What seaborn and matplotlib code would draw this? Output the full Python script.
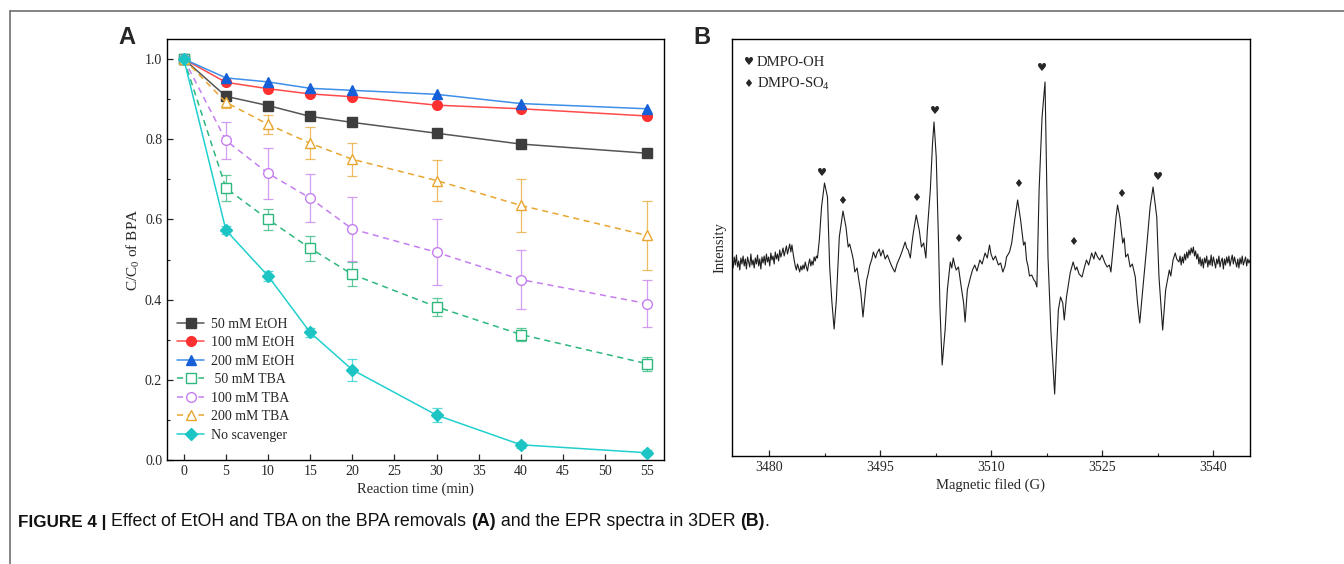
import seaborn as sns
import matplotlib.pyplot as plt
from matplotlib.lines import Line2D
from matplotlib.ticker import MultipleLocator

# ---- panel A : BPA removal with scavengers ----
time_min = [0, 5, 10, 15, 20, 30, 40, 55]
etoh_50 = [1.0, 0.907, 0.884, 0.857, 0.842, 0.815, 0.788, 0.765]
etoh_100 = [1.0, 0.942, 0.926, 0.913, 0.906, 0.885, 0.876, 0.858]
etoh_200 = [1.0, 0.953, 0.943, 0.927, 0.922, 0.912, 0.889, 0.876]
tba_50 = [1.0, 0.678, 0.600, 0.528, 0.463, 0.382, 0.313, 0.240]
tba_50_err = [0.0, 0.033, 0.027, 0.031, 0.030, 0.023, 0.015, 0.018]
tba_100 = [1.0, 0.797, 0.715, 0.653, 0.576, 0.518, 0.450, 0.390]
tba_100_err = [0.0, 0.046, 0.063, 0.060, 0.080, 0.082, 0.073, 0.058]
tba_200 = [1.0, 0.892, 0.837, 0.790, 0.750, 0.697, 0.635, 0.560]
tba_200_err = [0.0, 0.015, 0.023, 0.040, 0.041, 0.050, 0.066, 0.085]
no_scav = [1.0, 0.573, 0.459, 0.318, 0.225, 0.112, 0.038, 0.018]
no_scav_err = [0.0, 0.010, 0.012, 0.010, 0.027, 0.018, 0.008, 0.006]

# ---- panel B : EPR spectrum (three stretches) ----
left_g = [
    3475.00, 3475.15, 3475.30, 3475.45, 3475.60, 3475.75, 3475.90, 3476.05, 3476.20, 3476.35,
    3476.50, 3476.65, 3476.80, 3476.95, 3477.10, 3477.25, 3477.40, 3477.55, 3477.70, 3477.85,
    3478.00, 3478.15, 3478.30, 3478.45, 3478.60, 3478.75, 3478.90, 3479.05, 3479.20, 3479.35,
    3479.50, 3479.65, 3479.80, 3479.95, 3480.10, 3480.25, 3480.40, 3480.55, 3480.70, 3480.85,
    3481.00, 3481.15, 3481.30, 3481.45, 3481.60, 3481.75, 3481.90, 3482.05, 3482.20, 3482.35,
    3482.50, 3482.65, 3482.80, 3482.95, 3483.10, 3483.25, 3483.40, 3483.55, 3483.70, 3483.85,
    3484.00, 3484.15, 3484.30, 3484.45, 3484.60, 3484.75, 3484.90, 3485.05, 3485.20, 3485.35,
    3485.50, 3485.65, 3485.80, 3485.95, 3486.10, 3486.25, 3486.40, 3486.55,
]
left_i = [
    2, -6, 5, -3, 7, -5, 1, -8, 4, -2,
    6, -4, 3, -7, 5, 0, -5, 8, -3, 2,
    -6, 4, -2, 7, -4, 3, -7, 5, -1, 6,
    -3, 8, 0, 5, -4, 9, 2, 6, -2, 10,
    3, 8, 1, 12, 5, 9, 14, 6, 11, 16,
    8, 13, 18, 10, 17, 9, 2, -4, -8, -2,
    -6, -10, -4, -8, -3, -7, 0, -5, -9, -2,
    3, -4, 1, -3, 5, 1, 6, 4,
]
mid_g = [
    3486.8, 3487.1, 3487.5, 3487.9, 3488.2, 3488.5, 3488.8, 3489.1, 3489.5, 3490.0,
    3490.4, 3490.7, 3490.9, 3491.2, 3491.4, 3491.6, 3491.9, 3492.2, 3492.4, 3492.7,
    3493.0, 3493.2, 3493.4, 3493.6, 3493.9, 3494.1, 3494.4, 3494.6, 3494.9, 3495.1,
    3495.4, 3495.7, 3496.0, 3496.4, 3496.7, 3497.0, 3497.3, 3497.7, 3498.0, 3498.4,
    3498.6, 3498.8, 3499.1, 3499.3, 3499.5, 3499.9, 3500.3, 3500.6, 3500.9, 3501.2,
    3501.4, 3501.8, 3502.1, 3502.3, 3502.6, 3502.9, 3503.1, 3503.4, 3503.8, 3504.1,
    3504.5, 3504.7, 3504.9, 3505.1, 3505.3, 3505.6, 3505.9, 3506.3, 3506.5, 3506.8,
    3507.2, 3507.5, 3507.8, 3508.1, 3508.5, 3508.8, 3509.2, 3509.5, 3509.8, 3510.0,
    3510.3, 3510.6, 3511.0, 3511.3, 3511.6, 3511.9, 3512.1, 3512.5, 3512.8, 3513.2,
    3513.6, 3514.0, 3514.4, 3514.6, 3514.8, 3515.0, 3515.2, 3515.5, 3515.8, 3516.0,
    3516.2, 3516.5, 3516.9, 3517.3, 3517.7, 3518.1, 3518.6, 3519.1, 3519.4, 3519.7,
    3519.9, 3520.2, 3520.7, 3521.1, 3521.4, 3521.6, 3521.9, 3522.3, 3522.6, 3522.9,
    3523.2, 3523.6, 3523.9, 3524.1, 3524.4, 3524.7, 3525.0, 3525.4, 3525.7, 3526.0,
    3526.2, 3526.6, 3526.9, 3527.1, 3527.4, 3527.8, 3528.0, 3528.2, 3528.5, 3528.8,
    3529.1, 3529.5, 3529.8, 3530.1, 3530.5, 3531.0, 3531.5, 3531.9, 3532.4, 3532.7,
    3533.2, 3533.6, 3534.1, 3534.3, 3534.6, 3534.9, 3535.1,
]
mid_i = [
    22, 55, 79, 65, -5, -40, -67, -38, 25, 51,
    35, 15, 18, 9, 2, -10, -6, -21, -30, -55,
    -32, -18, -12, -4, 3, 10, 4, 9, 13, 6,
    12, 3, 7, -1, -6, -10, -2, 5, 11, 20,
    14, 12, 4, 18, 29, 47, 32, 15, 19, 4,
    32, 72, 119, 140, 105, 22, -45, -103, -68, -28,
    0, -6, 4, -3, -8, -5, -21, -41, -60, -28,
    -16, -8, -3, -9, 2, -2, 9, 4, 17, 8,
    2, 6, -3, -1, -10, -4, 5, 10, 19, 42,
    62, 42, 17, 20, 2, -4, -14, -13, -18, -20,
    -25, 72, 145, 180, 5, -70, -132, -48, -35, -41,
    -58, -35, -11, 0, -8, -5, -12, -15, -6, 2,
    -3, 9, 3, 10, 5, 2, 7, -1, -5, -3,
    -10, 22, 45, 57, 45, 19, 24, 5, 8, -5,
    -2, -15, -41, -61, -28, 12, 55, 75, 45, -15,
    -68, -28, -8, -14, 2, 9, 3,
]
right_g = [
    3535.40, 3535.55, 3535.70, 3535.85, 3536.00, 3536.15, 3536.30, 3536.45, 3536.60, 3536.75,
    3536.90, 3537.05, 3537.20, 3537.35, 3537.50, 3537.65, 3537.80, 3537.95, 3538.10, 3538.25,
    3538.40, 3538.55, 3538.70, 3538.85, 3539.00, 3539.15, 3539.30, 3539.45, 3539.60, 3539.75,
    3539.90, 3540.05, 3540.20, 3540.35, 3540.50, 3540.65, 3540.80, 3540.95, 3541.10, 3541.25,
    3541.40, 3541.55, 3541.70, 3541.85, 3542.00, 3542.15, 3542.30, 3542.45, 3542.60, 3542.75,
    3542.90, 3543.05, 3543.20, 3543.35, 3543.50, 3543.65, 3543.80, 3543.95, 3544.10, 3544.25,
    3544.40, 3544.55, 3544.70, 3544.85, 3545.00,
]
right_i = [
    0, 6, -3, 5, -1, 8, 2, 10, 4, 12,
    7, 14, 9, 15, 6, 11, 3, 8, -2, 5,
    -4, 3, -6, 4, -1, 6, -5, 2, -3, 7,
    -4, 5, 0, -6, 3, -2, 6, -5, 1, 4,
    -7, 3, -3, 5, -1, 6, -4, 2, 7, -2,
    5, 0, -5, 3, -6, 4, -2, 6, -3, 1,
    5, -4, 3, -1, 2,
]
field_g = left_g + mid_g + right_g
intensity = left_i + mid_i + right_i

oh_peak_g = [3487.2, 3502.4, 3516.9, 3532.5]
oh_peak_y = [89, 151, 194, 85]
so4_peak_g = [3489.9, 3499.9, 3505.5, 3513.6, 3521.1, 3527.6]
so4_peak_y = [61, 64, 23, 78, 20, 68]

sns.set_theme(style="ticks")
plt.rcParams["font.family"] = ["Liberation Serif", "DejaVu Sans"]
plt.rcParams["mathtext.fontset"] = "custom"
plt.rcParams["mathtext.rm"] = "Liberation Serif"
plt.rcParams["axes.edgecolor"] = "black"
plt.rcParams["axes.linewidth"] = 1.0

W, H = 1344, 564
fig = plt.figure(figsize=(W / 100, H / 100), dpi=100)
fig.patch.set_facecolor("white")

def box(l, r, t, b):
    return [l / W, 1 - b / H, (r - l) / W, (b - t) / H]

ax = fig.add_axes(box(167, 664, 39, 460))
axb = fig.add_axes(box(732, 1250, 39, 456))

# label, values, errors, marker, linestyle, marker colour, line colour, filled
dash = (0, (4, 3))
series = [
    ("50 mM EtOH", etoh_50, None, "s", "-", "#3d3d3d", "#555555", True),
    ("100 mM EtOH", etoh_100, None, "o", "-", "#ff3030", "#ff4a4a", True),
    ("200 mM EtOH", etoh_200, None, "^", "-", "#1560d8", "#3d8fe8", True),
    (" 50 mM TBA", tba_50, tba_50_err, "s", dash, "#2db87d", "#2db87d", False),
    ("100 mM TBA", tba_100, tba_100_err, "o", dash, "#c57ff0", "#c57ff0", False),
    ("200 mM TBA", tba_200, tba_200_err, "^", dash, "#e8a630", "#e8a630", False),
    ("No scavenger", no_scav, no_scav_err, "D", "-", "#1cc4c4", "#22cfcf", True),
]

handles = []
for i, (label, vals, err, mk, ls, mcol, lcol, filled) in enumerate(series):
    if err is not None:
        ax.errorbar(time_min, vals, yerr=err, fmt="none", ecolor=lcol, elinewidth=0.9,
                    capsize=3.5, capthick=0.9, alpha=0.75, zorder=1)
    sns.lineplot(x=time_min, y=vals, ax=ax, color=lcol, linestyle=ls, lw=1.1,
                 marker=mk, markersize=7 if mk != "D" else 6.5,
                 markeredgecolor=mcol, markerfacecolor=mcol if filled else "white",
                 markeredgewidth=1.0, label=label, zorder=2 + i)
    handles.append(ax.lines[-1])

ax.set_xlim(-2, 57)
ax.set_ylim(0, 1.05)
ax.set_xticks(range(0, 56, 5))
ax.set_yticks([0.0, 0.2, 0.4, 0.6, 0.8, 1.0])
ax.yaxis.set_minor_locator(MultipleLocator(0.1))
ax.tick_params(direction="in", length=4, width=0.9, labelsize=10)
ax.tick_params(which="minor", direction="in", length=2.5, width=0.8)
ax.set_xlabel("Reaction time (min)", fontsize=10.5, labelpad=3)
ax.set_ylabel(r"C/C$_\mathregular{0}$ of BPA", fontsize=11, labelpad=2)
ax.legend(handles=handles, labels=[s[0] for s in series], loc="lower left",
          bbox_to_anchor=(0.0, 0.02), frameon=False, fontsize=10, labelspacing=0.4,
          handlelength=2.0, handletextpad=0.5, borderaxespad=0.3)

# panel B
sns.lineplot(x=field_g, y=intensity, ax=axb, color="#1e1e1e", lw=0.8,
             estimator=None, sort=False)
sym = dict(fontsize=8, ha="center", va="center", family=["DejaVu Sans"])
for g, y in zip(oh_peak_g, oh_peak_y):
    axb.text(g, y, "\u2665", **sym)
for g, y in zip(so4_peak_g, so4_peak_y):
    axb.text(g, y, "\u2666", **sym)
axb.text(0.032, 0.944, "\u2665", transform=axb.transAxes, **sym)
axb.text(0.048, 0.944, "DMPO-OH", transform=axb.transAxes, fontsize=10.5, va="center")
axb.text(0.032, 0.893, "\u2666", transform=axb.transAxes, **sym)
axb.text(0.048, 0.893, r"DMPO-SO$_\mathregular{4}$", transform=axb.transAxes,
         fontsize=10.5, va="center")
axb.set_xlim(3475, 3545)
axb.set_ylim(-194, 223)
axb.set_xticks([3480, 3495, 3510, 3525, 3540])
axb.xaxis.set_minor_locator(MultipleLocator(7.5))
axb.set_yticks([])
axb.tick_params(direction="in", length=4, width=0.9, labelsize=10)
axb.tick_params(which="minor", direction="in", length=2.5, width=0.8)
axb.set_xlabel("Magnetic filed (G)", fontsize=10.5, labelpad=3)
axb.set_ylabel("Intensity", fontsize=10.5, labelpad=4)

# panel letters
for x, s in [(127, "A"), (702, "B")]:
    fig.text(x / W, 1 - 37 / H, s, fontsize=17, fontweight="bold",
             family=["Liberation Sans"], ha="center", va="center")

# caption, built from pieces so bold and regular runs sit side by side
renderer = fig.canvas.get_renderer()
cap_parts = [
    ("FIGURE 4 | ", "bold", 12.3),
    ("Effect of EtOH and TBA on the BPA removals ", "normal", 12.8),
    ("(A)", "bold", 12.8),
    (" and the EPR spectra in 3DER ", "normal", 12.8),
    ("(B)", "bold", 12.8),
    (".", "normal", 12.8),
]
cx = 18
for s, wt, fs in cap_parts:
    t = fig.text(cx / W, 1 - 522 / H, s, fontsize=fs, fontweight=wt,
                 family=["Liberation Sans"], va="center", color="#111111")
    cx += t.get_window_extent(renderer).width

# frame lines of the figure box
fig.add_artist(Line2D([9.5 / W, 1], [1 - 10.7 / H] * 2, transform=fig.transFigure,
                      color="#707070", lw=1.2))
fig.add_artist(Line2D([9.5 / W] * 2, [0, 1 - 10.7 / H], transform=fig.transFigure,
                      color="#707070", lw=1.2))

fig.savefig("out.png", dpi=100, facecolor="white")
